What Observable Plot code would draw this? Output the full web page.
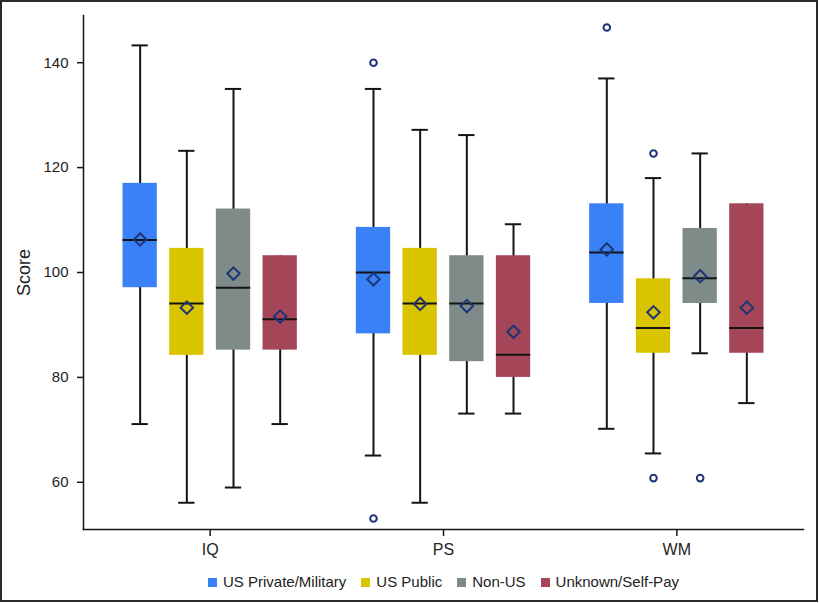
<!DOCTYPE html>
<html><head><meta charset="utf-8">
<script src="https://cdn.jsdelivr.net/npm/d3@7"></script>
<script src="https://cdn.jsdelivr.net/npm/@observablehq/plot@0.6"></script>
<style>
body{margin:0;background:#fff;}
#wrap{position:absolute;left:0;top:0;width:814px;height:598px;border:2px solid #2a2a2a;font-family:"Liberation Sans",Arial,sans-serif;background:#fff;overflow:hidden;}
#legend{display:flex;justify-content:center;align-items:center;gap:15px;font-size:15px;color:#222;padding-left:69px;margin-top:12px;line-height:16px;}
#legend .item{display:flex;align-items:center;gap:6px;}
#legend .sw{width:9px;height:9px;display:inline-block;}
</style>
</head><body>
<div id="wrap"><div id="chart"></div><div id="legend"></div></div>
<script>
const tests = ["IQ", "PS", "WM"];
const groups = ["US Private/Military", "US Public", "Non-US", "Unknown/Self-Pay"];
const colors = ["#3a80f7", "#dac400", "#7e8b89", "#a44657"];

// order: IQ x4 groups, PS x4 groups, WM x4 groups
const whiskerLow  = [71.1, 56.1, 59.0, 71.1,   65.1, 56.1, 73.1, 73.1,   70.2, 65.5, 84.6, 75.1];
const q1          = [97.1, 84.2, 85.2, 85.2,   88.3, 84.2, 83.0, 80.0,   94.1, 84.6, 94.1, 84.6];
const median      = [106.2, 94.1, 97.1, 91.1,  100.0, 94.1, 94.1, 84.3,  103.8, 89.4, 98.9, 89.4];
const mean        = [106.3, 93.3, 99.8, 91.6,  98.7, 94.0, 93.6, 88.7,   104.4, 92.4, 99.3, 93.3];
const q3          = [117.0, 104.6, 112.1, 103.2, 108.6, 104.6, 103.2, 103.2, 113.1, 98.8, 108.4, 113.1];
const whiskerHigh = [143.3, 123.2, 135.0, 103.2, 135.0, 127.2, 126.2, 109.2, 137.0, 118.0, 122.7, 113.1];

const outlierTest  = ["PS", "PS", "WM", "WM", "WM", "WM"];
const outlierGroup = ["US Private/Military", "US Private/Military", "US Private/Military", "US Public", "US Public", "Non-US"];
const outlierValue = [140.0, 53.1, 146.7, 122.7, 60.8, 60.8];

const yTicks = [60, 80, 100, 120, 140];

const boxes = [];
tests.forEach((t, i) => groups.forEach((g, j) => {
  const k = i * groups.length + j;
  boxes.push({test: t, group: g, lo: whiskerLow[k], q1: q1[k], med: median[k], mean: mean[k], q3: q3[k], hi: whiskerHigh[k]});
}));
const outliers = outlierValue.map((v, i) => ({test: outlierTest[i], group: outlierGroup[i], value: v}));

const ink = "#141414";
const navy = "#1d3577";

const chart = Plot.plot({
  width: 814, height: 560,
  marginLeft: 81, marginRight: 13, marginTop: 13, marginBottom: 33,
  style: {fontFamily: '"Liberation Sans", Arial, sans-serif', fontSize: "15px", color: "#222", background: "transparent"},
  fx: {domain: tests, paddingInner: 0, paddingOuter: 0.0429, round: false, label: null},
  x: {domain: groups, paddingInner: 0.265, paddingOuter: 0.632, round: false, axis: null},
  y: {domain: [51, 149], label: null},
  color: {domain: groups, range: colors},
  marks: [
    Plot.ruleX(boxes, {fx: "test", x: "group", y1: "lo", y2: "hi", stroke: ink, strokeWidth: 2}),
    Plot.tickY(boxes.filter(d => d.hi > d.q3), {fx: "test", x: "group", y: "hi", stroke: ink, strokeWidth: 2, insetLeft: 9, insetRight: 9}),
    Plot.tickY(boxes.filter(d => d.lo < d.q1), {fx: "test", x: "group", y: "lo", stroke: ink, strokeWidth: 2, insetLeft: 9, insetRight: 9}),
    Plot.barY(boxes, {fx: "test", x: "group", y1: "q1", y2: "q3", fill: "group"}),
    Plot.tickY(boxes, {fx: "test", x: "group", y: "med", stroke: ink, strokeWidth: 2}),
    Plot.dot(boxes, {fx: "test", x: "group", y: "mean", symbol: "diamond2", r: 5.6, stroke: navy, strokeWidth: 2, fill: "none"}),
    Plot.dot(outliers, {fx: "test", x: "group", y: "value", r: 3.3, stroke: navy, strokeWidth: 2, fill: "none"}),
    Plot.frame({anchor: "left", facet: "super", stroke: ink, strokeWidth: 1.5, insetLeft: -10}),
    Plot.frame({anchor: "bottom", facet: "super", stroke: ink, strokeWidth: 1.5, insetLeft: -10, insetRight: -10}),
    Plot.axisY({ticks: yTicks, tickSize: 6, tickPadding: 9, dx: -10, label: null, stroke: ink, strokeWidth: 1.5, fontSize: 15, fill: "#222"}),
    Plot.axisFx({anchor: "bottom", tickSize: 7, tickPadding: 7.5, label: null, fontSize: 16, stroke: ink, strokeWidth: 1.5, fill: "#222"}),
    Plot.text(["Score"], {frameAnchor: "left", dx: -69, rotate: -90, fontSize: 18, facet: "super", textAnchor: "middle", lineAnchor: "middle", fill: "#222"})
  ]
});
document.getElementById("chart").appendChild(chart);

const legend = document.getElementById("legend");
groups.forEach((g, i) => {
  const item = document.createElement("span");
  item.className = "item";
  const sw = document.createElement("span");
  sw.className = "sw";
  sw.style.background = colors[i];
  const lab = document.createElement("span");
  lab.textContent = g;
  item.appendChild(sw); item.appendChild(lab);
  legend.appendChild(item);
});
</script>
</body></html>
